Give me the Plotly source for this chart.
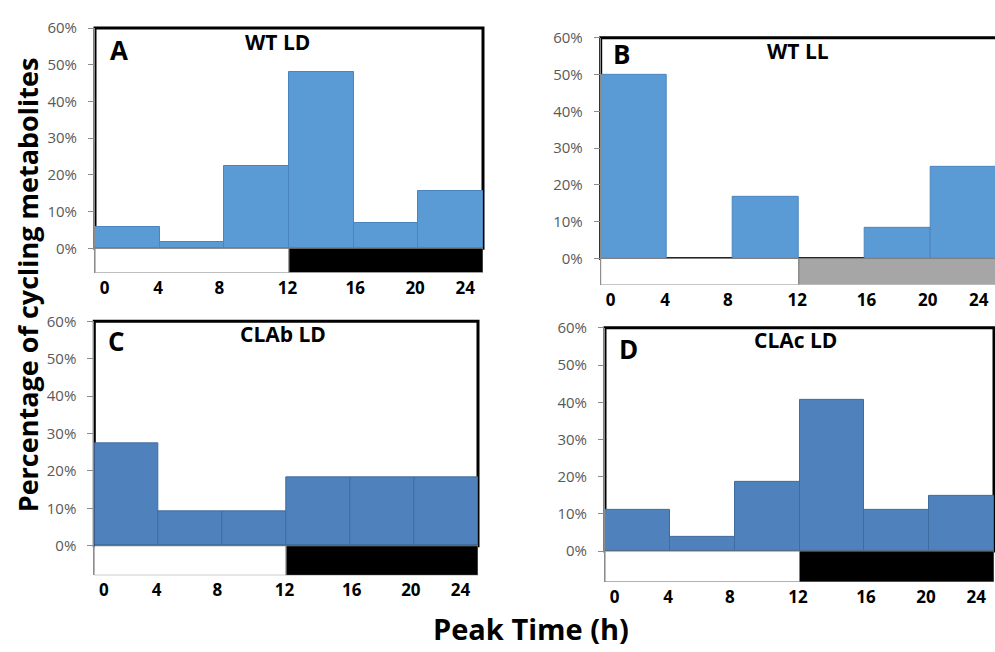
import plotly.graph_objects as go

# Peak-time bins (h) shared by all four panels
bin_starts = [0, 4, 8, 12, 16, 20]
bin_width = 4

# Percentage of cycling metabolites peaking in each bin
wt_ld = [5.7, 1.6, 22.5, 47.9, 7.0, 15.6]
wt_ll = [50.0, 0.0, 16.7, 0.0, 8.3, 25.0]
clab_ld = [27.3, 9.1, 9.1, 18.2, 18.2, 18.2]
clac_ld = [11.1, 3.7, 18.5, 40.7, 11.1, 14.8]

# Light / dark regime of each panel: (start, end, colour)
light_dark_ld = [(0, 12, "white"), (12, 24, "black")]
light_dark_ll = [(0, 12, "white"), (12, 24, "#a6a6a6")]

# Hour labels printed under each panel and where they sit on the time axis
hour_labels = ["0", "4", "8", "12", "16", "20", "24"]
hour_label_pos = [0.6, 3.9, 7.7, 11.9, 16.1, 19.8, 22.9]

y_ticks = [0, 10, 20, 30, 40, 50, 60]
y_tick_text = [f"{v}%" for v in y_ticks]

W, H = 995, 652

panels = [
    # pixel box is (left, right, top, bottom) of each subplot
    dict(letter="A", title="WT LD", values=wt_ld, regime=light_dark_ld,
         color="#5b9bd5", edge="#4a86bd", box=(95, 483, 17.3, 266),
         xmax=24, ymin=-6.6, letter_xy=(119, 40), title_xy=(277, 31.5)),
    dict(letter="B", title="WT LL", values=wt_ll, regime=light_dark_ll,
         color="#5b9bd5", edge="#4a86bd", box=(600.7, 995, 27.3, 278.3),
         xmax=24 * (995 - 600.7) / (997 - 600.7), ymin=-7.1,
         letter_xy=(621.7, 44), title_xy=(797.5, 41)),
    dict(letter="C", title="CLAb LD", values=clab_ld, regime=light_dark_ld,
         color="#4f81bd", edge="#3f6c9f", box=(94.3, 478, 315.7, 574),
         xmax=24, ymin=-7.9, letter_xy=(116.7, 335.5), title_xy=(282.5, 329)),
    dict(letter="D", title="CLAc LD", values=clac_ld, regime=light_dark_ld,
         color="#4f81bd", edge="#3f6c9f", box=(605, 994, 322.3, 580.7),
         xmax=24, ymin=-8.3, letter_xy=(628, 344), title_xy=(795.3, 334.5)),
]

FONT = "Open Sans"

fig = go.Figure()
shapes = []
annotations = []
layout_axes = {}

for i, p in enumerate(panels, start=1):
    xa = "x" if i == 1 else f"x{i}"
    ya = "y" if i == 1 else f"y{i}"
    left, right, top, bottom = p["box"]

    fig.add_trace(go.Bar(
        x=bin_starts, y=p["values"], width=bin_width, offset=0,
        marker=dict(color=p["color"], line=dict(color=p["edge"], width=1)),
        xaxis=xa, yaxis=ya, showlegend=False, hoverinfo="skip",
    ))

    layout_axes["xaxis" if i == 1 else f"xaxis{i}"] = dict(
        domain=[left / W, right / W], range=[0, p["xmax"]], anchor=ya,
        showgrid=False, zeroline=False, showline=False, ticks="",
        tickmode="array", tickvals=hour_label_pos, ticktext=hour_labels,
        tickfont=dict(family=FONT, size=17, color="black", weight="bold"),
        ticklabelstandoff=3, fixedrange=True,
    )
    layout_axes["yaxis" if i == 1 else f"yaxis{i}"] = dict(
        domain=[1 - bottom / H, 1 - top / H], range=[p["ymin"], 60], anchor=xa,
        showgrid=False, zeroline=False, showline=True, linecolor="#8c8c8c",
        linewidth=1, ticks="outside", ticklen=6, tickcolor="#8c8c8c",
        tickmode="array", tickvals=y_ticks, ticktext=y_tick_text,
        tickfont=dict(family=FONT, size=15, color="#595959"),
        ticklabelstandoff=8, fixedrange=True,
    )

    # light / dark bar beneath the histogram
    for start, end, colour in p["regime"]:
        shapes.append(dict(
            type="rect", xref=xa, yref=ya, x0=start, x1=end,
            y0=p["ymin"], y1=0, fillcolor=colour,
            line=dict(color="#7f7f7f", width=1), layer="above",
        ))

    # heavy frame around the histogram area (0 % to 60 %)
    zero_frac = (0 - p["ymin"]) / (60 - p["ymin"])
    shapes.append(dict(
        type="rect", xref=f"{xa} domain", yref=f"{ya} domain",
        x0=0, x1=24 / p["xmax"], y0=zero_frac, y1=1,
        line=dict(color="black", width=3), layer="below",
    ))

    lx, ly = p["letter_xy"]
    tx, ty = p["title_xy"]
    annotations.append(dict(
        text=p["letter"], x=lx / W, y=1 - ly / H, xref="paper", yref="paper",
        showarrow=False, xanchor="center", yanchor="middle",
        font=dict(family=FONT, size=26, color="black", weight="bold"),
    ))
    annotations.append(dict(
        text=p["title"], x=tx / W, y=1 - ty / H, xref="paper", yref="paper",
        showarrow=False, xanchor="center", yanchor="middle",
        font=dict(family=FONT, size=21, color="black", weight="bold"),
    ))

annotations.append(dict(
    text="Percentage of cycling metabolites", x=27 / W, y=1 - 279 / H,
    xref="paper", yref="paper", showarrow=False, textangle=-90,
    xanchor="center", yanchor="middle",
    font=dict(family=FONT, size=27, color="black", weight="bold"),
))
annotations.append(dict(
    text="Peak Time (h)", x=531 / W, y=1 - 628 / H,
    xref="paper", yref="paper", showarrow=False,
    xanchor="center", yanchor="middle",
    font=dict(family=FONT, size=29, color="black", weight="bold"),
))

fig.update_layout(
    width=W, height=H, margin=dict(l=0, r=0, t=0, b=0),
    paper_bgcolor="white", plot_bgcolor="rgba(0,0,0,0)",
    bargap=0, shapes=shapes, annotations=annotations,
    **layout_axes,
)

fig.write_html("out.html", config={"displayModeBar": False})
